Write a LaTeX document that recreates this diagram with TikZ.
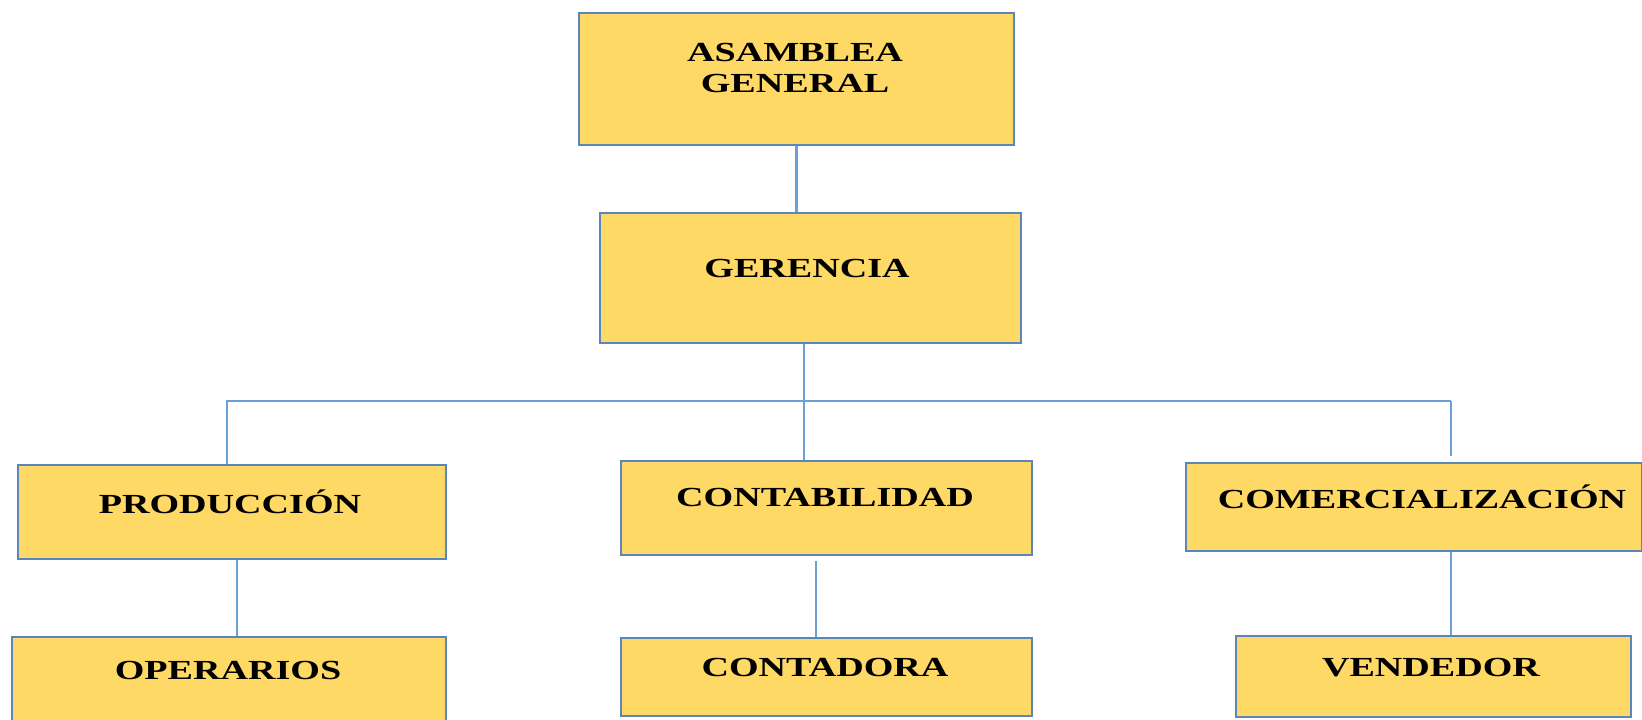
\documentclass[tikz,border=0pt]{standalone}
\usepackage{fontspec}
\setmainfont{Liberation Serif}[FakeStretch=1.38]
\definecolor{boxfill}{HTML}{FFD966}
\definecolor{boxline}{HTML}{5A86BC}
\definecolor{linkline}{HTML}{6A9FD8}
\begin{document}
\begin{tikzpicture}[x=0.5pt, y=-0.5pt,
	box/.style={draw=boxline, fill=boxfill, line width=1.1pt, rectangle, inner sep=0pt},
	lbl/.style={inner sep=0pt, align=center, font=\fontsize{13.8}{15.5}\selectfont\bfseries},
	link/.style={draw=linkline, line width=1.2pt}]
		\useasboundingbox (0,0) rectangle (1642,719);
		\clip (0,0) rectangle (1642,719);
		\node [box, minimum width=217.5pt, minimum height=66pt] (asamblea) at (796.5,79) {};
		\node [box, minimum width=210.5pt, minimum height=65pt] (gerencia) at (810.5,278) {};
		\node [box, minimum width=214pt, minimum height=47pt] (produccion) at (232,512) {};
		\node [box, minimum width=205.5pt, minimum height=47pt] (contabilidad) at (826.5,508) {};
		\node [box, minimum width=228pt, minimum height=44pt] (comercializacion) at (1414,507) {};
		\node [box, minimum width=217pt, minimum height=49pt] (operarios) at (229,686) {};
		\node [box, minimum width=205.5pt, minimum height=39pt] (contadora) at (826.5,677) {};
		\node [box, minimum width=197.5pt, minimum height=40.5pt] (vendedor) at (1433.5,676.5) {};
		\node [lbl] (t-asamblea) at (795,68) {ASAMBLEA\\GENERAL};
		\node [lbl] (t-gerencia) at (807,268) {GERENCIA};
		\node [lbl] (t-produccion) at (230,502) {PRODUCCIÓN};
		\node [lbl] (t-contabilidad) at (825,497) {CONTABILIDAD};
		\node [lbl] (t-comercializacion) at (1422,497) {COMERCIALIZACIÓN};
		\node [lbl] (t-operarios) at (228,670) {OPERARIOS};
		\node [lbl] (t-contadora) at (825,667) {CONTADORA};
		\node [lbl] (t-vendedor) at (1431,668) {VENDEDOR};
		% bus below gerencia
		\coordinate (bus) at (804,401);
		\coordinate (busL) at (227,401);
		\coordinate (busR) at (1451,401);
		\draw [link] (asamblea.south) -- (asamblea.south |- gerencia.north);
		\draw [link] (bus |- gerencia.south) -- (bus |- contabilidad.north);
		\draw [link] (busL |- produccion.north) -- (busL) -- (busR);
		\draw [link, shorten >=3pt] (busR) -- (busR |- comercializacion.north);
		\draw [link] (237,0 |- produccion.south) -- (237,0 |- operarios.north);
		\draw [link, shorten <=2.5pt] (816,0 |- contabilidad.south) -- (816,0 |- contadora.north);
		\draw [link] (busR |- comercializacion.south) -- (busR |- vendedor.north);
		\end{tikzpicture}
\end{document}
